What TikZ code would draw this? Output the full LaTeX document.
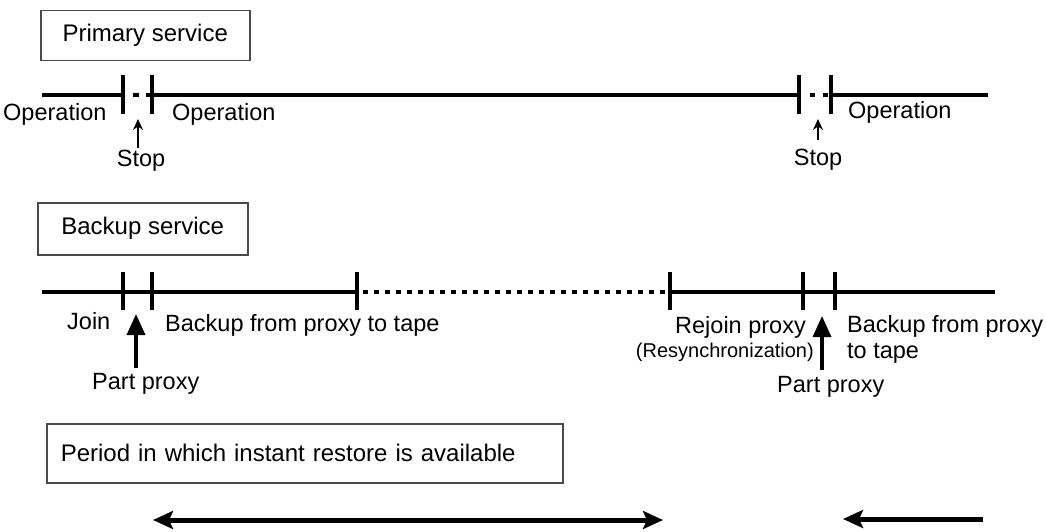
\documentclass[tikz,border=0pt]{standalone}
\usepackage{fontspec}
\setmainfont{Liberation Sans}
\usetikzlibrary{arrows.meta}
\definecolor{boxgray}{HTML}{4A4A4A}
\tikzset{
  lbl/.style={font=\fontsize{23.5}{28}\selectfont, inner sep=0pt, anchor=base west},
  lblsmall/.style={font=\fontsize{20}{24}\selectfont, inner sep=0pt, anchor=base east},
  titlebox/.style={draw=boxgray, line width=1.5pt, font=\fontsize{24}{28}\selectfont, inner sep=0pt, anchor=north west},
  tl/.style={line width=4pt},
  dotline/.style={line width=4pt, dash pattern=on 5pt off 6pt},
  tickmark/.style={line width=4pt},
  stoparr/.style={line width=2pt, -{Stealth[length=11pt,width=10pt]}},
  partarr/.style={line width=3.5pt, -{Triangle[length=21pt,width=18pt]}},
  periodarr/.style={line width=5pt},
}
\begin{document}
\begin{tikzpicture}[x=1pt,y=-1pt]
\useasboundingbox (0,0) rectangle (1046,532);

% ---------- Primary service ----------
\node[titlebox, minimum width=209pt, minimum height=50pt] (primary) at (40,10) {Primary service};

\coordinate (p0) at (42,95);
\coordinate (p1) at (123,95);
\coordinate (p2) at (152,95);
\coordinate (p3) at (799,95);
\coordinate (p4) at (831,95);
\coordinate (p5) at (988,95);
\coordinate (pd1a) at (133,95);
\coordinate (pd1b) at (151,95);
\coordinate (pd2a) at (810,95);
\coordinate (pd2b) at (830,95);

\draw[tl] (p0) -- (p1);
\draw[tl, dash pattern=on 6pt off 7pt] (pd1a) -- (pd1b);
\draw[tl] (p2) -- (p3);
\draw[tl, dash pattern=on 5pt off 8pt] (pd2a) -- (pd2b);
\draw[tl] (p4) -- (p5);
\foreach \x in {123,152,799,831} \draw[tickmark] (\x,75) -- (\x,114);

\node[lbl] (op1) at (3,121) {Operation};
\node[lbl] (op2) at (172,121) {Operation};
\node[lbl] (op3) at (848,119) {Operation};
\node[lbl, anchor=base] (stop1) at (141,166) {Stop};
\node[lbl, anchor=base] (stop2) at (818,165) {Stop};
\coordinate (s1b) at (138,148);
\coordinate (s1t) at (138,119);
\coordinate (s2b) at (818,140);
\coordinate (s2t) at (818,119);
\draw[stoparr] (s1b) -- (s1t);
\draw[stoparr] (s2b) -- (s2t);

% ---------- Backup service ----------
\node[titlebox, minimum width=210pt, minimum height=52pt] (backup) at (37,202) {Backup service};

\coordinate (b0) at (42,292);
\coordinate (b1) at (123,292);
\coordinate (b2) at (152,292);
\coordinate (b3) at (357,292);
\coordinate (b4) at (670,292);
\coordinate (b5) at (803,292);
\coordinate (b6) at (835,292);
\coordinate (b7) at (995,292);
\coordinate (bd1) at (363,292);
\coordinate (bd2) at (668,292);

\draw[tl] (b0) -- (b3);
\draw[dotline] (bd1) -- (bd2);
\draw[tl] (b4) -- (b7);
\foreach \x in {123,152,357,670,803,835} \draw[tickmark] (\x,272) -- (\x,310);

\node[lbl] (join) at (67,329) {Join};
\node[lbl] (bpt1) at (165,331) {Backup from proxy to tape};
\node[lbl] (part1) at (92,389) {Part proxy};
\node[lbl] (rejoin) at (675,333) {Rejoin proxy};
\node[lblsmall] (resync) at (814,357) {(Resynchronization)};
\node[lbl] (bpt2) at (847,332) {Backup from proxy};
\node[lbl] (bpt2b) at (847,358) {to tape};
\node[lbl] (part2) at (777,392) {Part proxy};

\coordinate (pa1b) at (136,368);
\coordinate (pa1t) at (136,314);
\coordinate (pa2b) at (822,370);
\coordinate (pa2t) at (822,316);
\draw[partarr] (pa1b) -- (pa1t);
\draw[partarr] (pa2b) -- (pa2t);

% ---------- Period ----------
\node[titlebox, text width=488pt, inner xsep=14pt, align=left, minimum height=59pt] (period) at (46,423) {Period in which instant restore is available};

\coordinate (r1a) at (153,520);
\coordinate (r1b) at (663,520);
\coordinate (r2a) at (843,519);
\coordinate (r2b) at (983,519);
\draw[periodarr, {Stealth[length=20pt,width=18pt,inset=4pt]}-{Stealth[length=20pt,width=18pt,inset=4pt]}] (r1a) -- (r1b);
\draw[periodarr, {Stealth[length=20pt,width=18pt,inset=4pt]}-] (r2a) -- (r2b);
\end{tikzpicture}
\end{document}
